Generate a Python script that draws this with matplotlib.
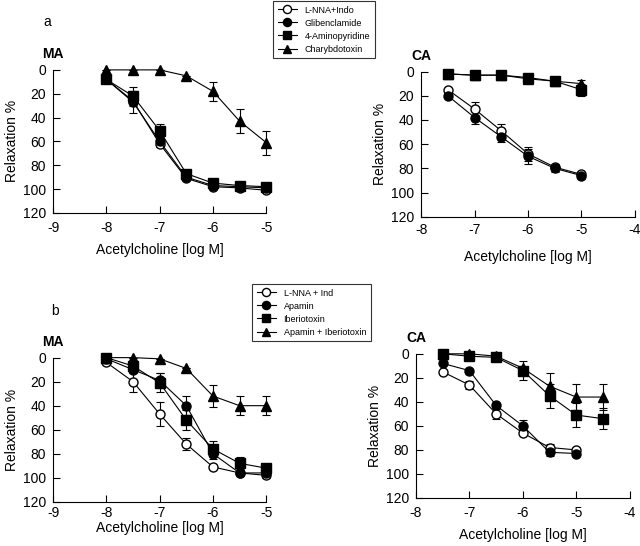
import matplotlib
matplotlib.use('Agg')
import matplotlib.pyplot as plt
import numpy as np

plt.rcParams['font.family'] = ['Liberation Sans', 'DejaVu Sans']
plt.rcParams['font.size'] = 10

# panel a, mesenteric artery (MA)
x_a_ma = [-8, -7.5, -7, -6.5, -6, -5.5, -5]
a_ma_lnna = [8, 26, 62, 91, 98, 99, 101]
a_ma_lnna_err = [0, 0, 3, 0, 0, 0, 0]
a_ma_glib = [8, 27, 60, 90, 97, 98, 99]
a_ma_glib_err = [0, 9, 4, 2, 2, 0, 0]
a_ma_4ap = [8, 22, 51, 87, 95, 97, 98]
a_ma_4ap_err = [0, 8, 6, 2, 0, 0, 0]
a_ma_chtx = [0, 0, 0, 5, 18, 43, 61]
a_ma_chtx_err = [0, 0, 0, 0, 8, 10, 10]

# panel a, coronary artery (CA)
x_a_ca = [-7.5, -7, -6.5, -6, -5.5, -5]
a_ca_lnna = [15, 31, 49, 68, 79, 85]
a_ca_lnna_err = [0, 6, 6, 6, 3, 2]
a_ca_glib = [20, 38, 54, 70, 80, 86]
a_ca_glib_err = [2, 5, 4, 6, 3, 2]
a_ca_4ap = [2, 3, 3, 5, 8, 15]
a_ca_4ap_err = [0, 0, 0, 2, 2, 5]
a_ca_chtx = [2, 3, 3, 6, 8, 10]
a_ca_chtx_err = [0, 0, 0, 0, 2, 3]

# panel b, MA
x_b_ma = [-8, -7.5, -7, -6.5, -6, -5.5, -5]
b_ma_lnna = [4, 20, 47, 72, 91, 96, 98]
b_ma_lnna_err = [0, 9, 10, 5, 0, 2, 2]
b_ma_apa = [1, 10, 19, 40, 80, 96, 96]
b_ma_apa_err = [0, 3, 6, 8, 4, 2, 2]
b_ma_ibtx = [0, 7, 21, 52, 76, 88, 92]
b_ma_ibtx_err = [0, 2, 8, 8, 7, 5, 3]
b_ma_both = [0, 0, 1, 9, 32, 40, 40]
b_ma_both_err = [0, 0, 0, 0, 9, 8, 8]

# panel b, CA
x_b_ca = [-7.5, -7, -6.5, -6, -5.5, -5, -4.5]
b_ca_lnna = [15, 26, 50, 66, 78, 80]
b_ca_lnna_err = [0, 3, 4, 2, 3, 2]
b_ca_apa = [8, 14, 43, 60, 82, 83]
b_ca_apa_err = [0, 0, 2, 5, 3, 2]
b_ca_ibtx = [0, 2, 3, 14, 35, 51, 54]
b_ca_ibtx_err = [0, 0, 0, 8, 10, 10, 9]
b_ca_both = [0, 0, 2, 12, 27, 36, 36]
b_ca_both_err = [0, 0, 0, 0, 11, 11, 11]

labels_a = ['L-NNA+Indo', 'Glibenclamide', '4-Aminopyridine', 'Charybdotoxin']
labels_b = ['L-NNA + Ind', 'Apamin', 'Iberiotoxin', 'Apamin + Iberiotoxin']
styles = [dict(marker='o', mfc='white'), dict(marker='o', mfc='black'),
          dict(marker='s', mfc='black'), dict(marker='^', mfc='black')]


def draw(ax, series, xlim, xticks, title, xpad, lpad):
    handles = []
    for (x, y, e), st in zip(series, styles):
        x = x[:len(y)]
        ax.errorbar(x, y, yerr=e, fmt='none', ecolor='black', elinewidth=0.8,
                    capsize=3, capthick=0.8, clip_on=False, zorder=2)
        h, = ax.plot(x, y, color='black', lw=0.8, marker=st['marker'],
                     mfc=st['mfc'], mec='black', ms=6.5, clip_on=False, zorder=3)
        handles.append(h)
    ax.set_xlim(xlim)
    ax.set_ylim(120, 0)
    ax.set_xticks(xticks)
    ax.set_xticklabels([str(t) for t in xticks])
    ax.set_yticks(range(0, 121, 20))
    ax.spines['top'].set_visible(False)
    ax.spines['right'].set_visible(False)
    ax.tick_params(direction='in', length=5, width=0.8, labelsize=10)
    ax.tick_params(axis='x', pad=xpad)
    ax.tick_params(axis='y', pad=5)
    ax.set_xlabel('Acetylcholine [log M]', labelpad=lpad)
    ax.set_ylabel('Relaxation %', labelpad=3)
    ax.text(0, 1.06, title, transform=ax.transAxes, ha='center', va='bottom',
            fontweight='bold', fontsize=10)
    return handles


fig = plt.figure(figsize=(6.4, 5.46), dpi=100)
ax1 = fig.add_axes([0.083, 0.610, 0.333, 0.262])
ax2 = fig.add_axes([0.658, 0.603, 0.334, 0.266])
ax3 = fig.add_axes([0.083, 0.081, 0.333, 0.264])
ax4 = fig.add_axes([0.650, 0.088, 0.334, 0.264])

h_a = draw(ax1, [(x_a_ma, a_ma_lnna, a_ma_lnna_err), (x_a_ma, a_ma_glib, a_ma_glib_err),
                 (x_a_ma, a_ma_4ap, a_ma_4ap_err), (x_a_ma, a_ma_chtx, a_ma_chtx_err)],
           (-9, -5), [-9, -8, -7, -6, -5], 'MA', 5.8, 5.8)
draw(ax2, [(x_a_ca, a_ca_lnna, a_ca_lnna_err), (x_a_ca, a_ca_glib, a_ca_glib_err),
           (x_a_ca, a_ca_4ap, a_ca_4ap_err), (x_a_ca, a_ca_chtx, a_ca_chtx_err)],
     (-8, -4), [-8, -7, -6, -5, -4], 'CA', 4.3, 9.4)
h_b = draw(ax3, [(x_b_ma, b_ma_lnna, b_ma_lnna_err), (x_b_ma, b_ma_apa, b_ma_apa_err),
                 (x_b_ma, b_ma_ibtx, b_ma_ibtx_err), (x_b_ma, b_ma_both, b_ma_both_err)],
           (-9, -5), [-9, -8, -7, -6, -5], 'MA', 3.0, 0.5)
draw(ax4, [(x_b_ca, b_ca_lnna, b_ca_lnna_err), (x_b_ca, b_ca_apa, b_ca_apa_err),
           (x_b_ca, b_ca_ibtx, b_ca_ibtx_err), (x_b_ca, b_ca_both, b_ca_both_err)],
     (-8, -4), [-8, -7, -6, -5, -4], 'CA', 5.8, 6.0)

leg_kw = dict(fontsize=6.5, frameon=True, fancybox=False, edgecolor='black',
              handlelength=2.2, markerscale=0.9, borderpad=0.5, labelspacing=0.45,
              borderaxespad=0)
la = fig.legend(h_a, labels_a, loc='upper left', bbox_to_anchor=(273 / 640, 1 - 1 / 546), **leg_kw)
lb = fig.legend(h_b, labels_b, loc='upper left', bbox_to_anchor=(252 / 640, 1 - 284 / 546), **leg_kw)
for lg in (la, lb):
    lg.get_frame().set_linewidth(0.8)

fig.text(47 / 640, 1 - 22 / 546, 'a', ha='center', va='center', fontsize=10)
fig.text(55 / 640, 1 - 311 / 546, 'b', ha='center', va='center', fontsize=10)

fig.savefig('out.png', dpi=100)
